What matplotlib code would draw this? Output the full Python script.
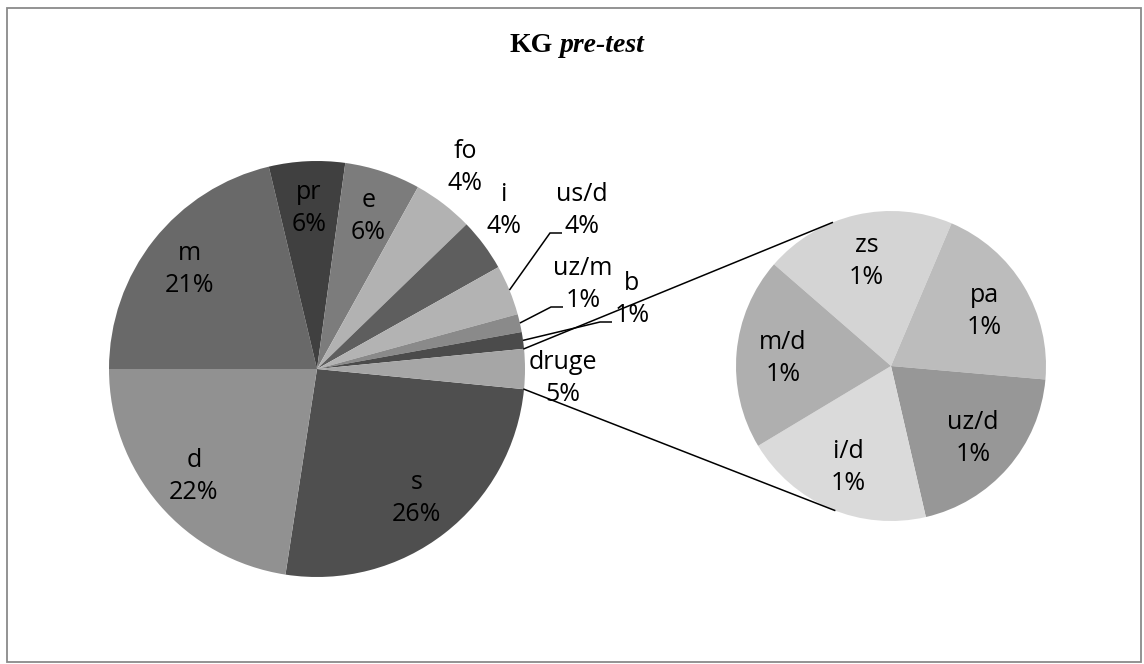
import numpy as np
import matplotlib
matplotlib.use("Agg")
import matplotlib.pyplot as plt
from matplotlib.patches import Rectangle

# ---------------- data ----------------
main_labels = ["s", "d", "m", "pr", "e", "fo", "i", "us/d", "uz/m", "b", "druge"]
main_values = [25.9, 22.6, 21.3, 5.9, 5.9, 4.7, 4.1, 3.9, 1.4, 1.3, 3.1]
main_pct = ["26%", "22%", "21%", "6%", "6%", "4%", "4%", "4%", "1%", "1%", "5%"]
main_colors = ["#4f4f4f", "#919191", "#696969", "#404040", "#7c7c7c", "#b2b2b2",
               "#5e5e5e", "#b3b3b3", "#8a8a8a", "#4b4b4b", "#a6a6a6"]

sec_labels = ["zs", "pa", "uz/d", "i/d", "m/d"]
sec_values = [0.62, 0.62, 0.62, 0.62, 0.62]
sec_pct = ["1%", "1%", "1%", "1%", "1%"]
sec_colors = ["#d4d4d4", "#bcbcbc", "#979797", "#dadada", "#afafaf"]

title_bold = "KG"
title_italic = "pre-test"

# ---------------- layout ----------------
W, H = 1144, 664
fig = plt.figure(figsize=(W / 100, H / 100), dpi=100)
ax = fig.add_axes([0, 0, 1, 1])

def P(x, y):
    """pixel (top-left origin) -> data coords"""
    return x, H - y

C1 = P(317, 369)
R1 = 208
C2 = P(891, 366)
R2 = 155

label_font = "Open Sans"
lfs = 18

total = sum(main_values)
start = -main_values[-1] / total * 360 / 2
w1, _ = ax.pie(main_values, colors=main_colors, radius=R1, center=C1,
               startangle=start, counterclock=False, frame=True,
               wedgeprops=dict(linewidth=0, edgecolor="none", antialiased=True))
w2, _ = ax.pie(sec_values, colors=sec_colors, radius=R2, center=C2,
               startangle=139, counterclock=False, frame=True,
               wedgeprops=dict(linewidth=0, edgecolor="none", antialiased=True))


def put_label(cx, cy, name, pct):
    # cx, cy in data coords = visual center of two-line label
    ax.text(cx, cy + 8, name, ha="center", va="baseline", fontsize=lfs,
            family=label_font, color="black")
    ax.text(cx, cy - 24, pct, ha="center", va="baseline", fontsize=lfs,
            family=label_font, color="black")

# outside label offsets (pixels, y up) relative to main centre
outside = {"fo": (148, 203), "i": (187, 160), "us/d": (265, 160),
           "uz/m": (266, 86), "b": (315, 71), "druge": (246, -8)}
leaders = {"us/d", "uz/m", "b"}

for wdg, name, pct in zip(w1, main_labels, main_pct):
    mid = np.deg2rad((wdg.theta1 + wdg.theta2) / 2)
    if name in outside:
        dx, dy = outside[name]
        lx, ly = C1[0] + dx, C1[1] + dy
        put_label(lx, ly, name, pct)
        if name in leaders:
            sx = C1[0] + R1 * np.cos(mid)
            sy = C1[1] + R1 * np.sin(mid)
            ex, ey = lx - 32, ly - 24
            fx = lx - 20
            ax.plot([sx, ex, fx], [sy, ey, ey], color="black", lw=1.1,
                    solid_capstyle="butt", solid_joinstyle="miter")
    else:
        r = 0.78 * R1
        put_label(C1[0] + r * np.cos(mid), C1[1] + r * np.sin(mid), name, pct)

for wdg, name, pct in zip(w2, sec_labels, sec_pct):
    mid = np.deg2rad((wdg.theta1 + wdg.theta2) / 2)
    r = 0.70 * R2
    put_label(C2[0] + r * np.cos(mid), C2[1] + r * np.sin(mid), name, pct)

# connector lines: druge wedge edges to tangent points of secondary pie
dw = w1[-1]
for ang, sign in ((dw.theta2, -1), (dw.theta1, 1)):
    a = np.deg2rad(ang)
    ex = C1[0] + R1 * np.cos(a)
    ey = C1[1] + R1 * np.sin(a)
    vx, vy = ex - C2[0], ey - C2[1]
    d = np.hypot(vx, vy)
    phi = np.arctan2(vy, vx)
    alpha = np.arccos(R2 / d)
    t = phi + sign * alpha
    tx = C2[0] + R2 * np.cos(t)
    ty = C2[1] + R2 * np.sin(t)
    ax.plot([ex, tx], [ey, ty], color="black", lw=1.1)

# title
renderer = fig.canvas.get_renderer()
tfs = 20
ty = H - 52
t1 = ax.text(0, ty, title_bold, ha="left", va="baseline", fontsize=tfs,
             family="Liberation Serif", weight="bold")
t2 = ax.text(0, ty, title_italic, ha="left", va="baseline", fontsize=tfs,
             family="Liberation Serif", weight="bold", style="italic")
wa = t1.get_window_extent(renderer).width
wb = t2.get_window_extent(renderer).width
gap = 0.25 * tfs * 100 / 72
x0 = 577 - (wa + gap + wb) / 2
t1.set_x(x0)
t2.set_x(x0 + wa + gap)

# chart border
bx0, by0 = P(7, 662)
bx1, by1 = P(1141, 8)
ax.add_patch(Rectangle((bx0, by0), bx1 - bx0, by1 - by0, fill=False,
                       edgecolor="#8a8a8a", lw=1.3))

ax.set_xlim(0, W)
ax.set_ylim(0, H)
ax.set_aspect("auto")
ax.axis("off")
fig.savefig("out.png", dpi=100, facecolor="white")
